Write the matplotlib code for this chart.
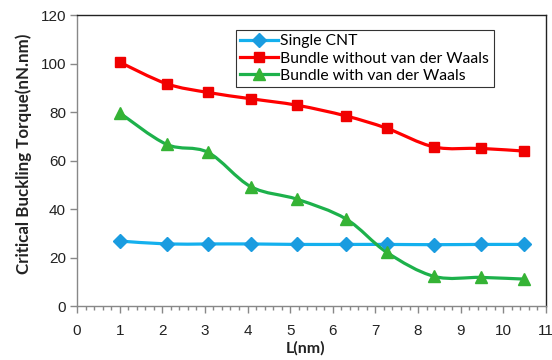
import numpy as np
import matplotlib
matplotlib.use("Agg")
import matplotlib.pyplot as plt
from matplotlib.path import Path
from matplotlib.patches import PathPatch
from matplotlib.ticker import MultipleLocator

# 数据
L_nm = [1.0, 2.1, 3.07, 4.08, 5.17, 6.31, 7.27, 8.38, 9.48, 10.49]
single_cnt = [26.8, 25.6, 25.6, 25.6, 25.4, 25.4, 25.4, 25.3, 25.4, 25.4]
bundle_no_vdw = [100.6, 91.7, 88.1, 85.5, 82.8, 78.4, 73.3, 65.6, 65.0, 63.9]
bundle_vdw = [79.7, 66.7, 63.4, 49.2, 44.0, 35.9, 22.1, 12.2, 11.8, 11.1]
labels = ["Single CNT", "Bundle without van der Waals", "Bundle with van der Waals"]


def smooth_path(xs, ys):
    """Excel 风格平滑线：Catmull-Rom 转 Bezier"""
    pts = np.column_stack([xs, ys])
    verts = [pts[0]]
    codes = [Path.MOVETO]
    n = len(pts)
    for i in range(n - 1):
        p0 = pts[i - 1] if i > 0 else pts[i]
        p1 = pts[i]
        p2 = pts[i + 1]
        p3 = pts[i + 2] if i + 2 < n else pts[i + 1]
        c1 = p1 + (p2 - p0) / 6.0
        c2 = p2 - (p3 - p1) / 6.0
        verts += [c1, c2, p2]
        codes += [Path.CURVE4] * 3
    return Path(verts, codes)


fig = plt.figure(figsize=(5.52, 3.6), dpi=100)
ax = fig.add_axes([0.1395, 0.15, 0.8495, 0.808])

series = [
    (single_cnt, "#14B0EE", "#1A9CE0", "D", 7.5),
    (bundle_no_vdw, "#FF0000", "#F00000", "s", 7),
    (bundle_vdw, "#1DB14B", "#35B335", "^", 8),
]
for (ys, lc, mc, mk, ms), lab in zip(series, labels):
    ax.add_patch(PathPatch(smooth_path(L_nm, ys), facecolor="none",
                           edgecolor=lc, lw=2.3, zorder=2))
    ax.plot(L_nm, ys, ls="none", marker=mk, ms=ms, color=mc, mec=mc, zorder=3)
    # 图例用的代理线
    ax.plot([], [], color=lc, lw=2.3, marker=mk, ms=ms, mfc=mc, mec=mc, label=lab)

ax.set_xlim(0, 11)
ax.set_ylim(0, 120)
ax.xaxis.set_major_locator(MultipleLocator(1))
ax.xaxis.set_minor_locator(MultipleLocator(0.2))
ax.yaxis.set_major_locator(MultipleLocator(20))

for s in ax.spines.values():
    s.set_color("#222222")
    s.set_linewidth(1.0)
ax.spines["left"].set_color("#888888")
ax.spines["bottom"].set_color("#888888")

ax.tick_params(axis="x", which="major", length=5, width=1, color="#888888",
               labelsize=11, pad=8, labelcolor="#222222")
ax.tick_params(axis="x", which="minor", length=3, width=1, color="#888888")
ax.tick_params(axis="y", which="major", length=5, width=1, color="#888888",
               labelsize=11, pad=3, labelcolor="#222222")
for t in ax.get_xticklabels() + ax.get_yticklabels():
    t.set_fontfamily("Liberation Sans")

fig.text(0.043, 0.572, "Critical Buckling Torque(nN.nm)", rotation=90,
         ha="center", va="center", fontsize=12.2, fontweight="bold",
         family="Lato", color="#222222")
fig.text(0.553, 0.033, "L(nm)", ha="center", va="center", fontsize=11.5,
         fontweight="bold", family="Lato", color="#222222")

leg = ax.legend(loc="upper left", bbox_to_anchor=(0.338, 0.95), frameon=True,
                fancybox=False, edgecolor="#333333", framealpha=1,
                prop={"family": "Lato", "size": 11.3}, handlelength=2.4,
                handletextpad=0.15, borderpad=0.3, labelspacing=0.2,
                borderaxespad=0)
leg.get_frame().set_linewidth(0.8)

fig.savefig("out.png", dpi=100)
